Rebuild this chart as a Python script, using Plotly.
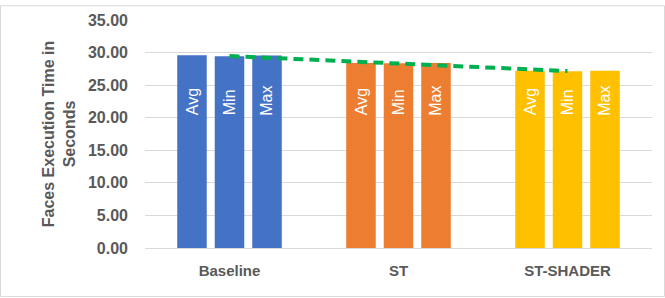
import numpy as np
import plotly.graph_objects as go

categories = ["Baseline", "ST", "ST-SHADER"]
series_names = ["Avg", "Min", "Max"]
avg_values = [29.60, 28.40, 27.20]
min_values = [29.45, 28.35, 27.15]
max_values = [29.55, 28.40, 27.20]
category_colors = ["#4472C4", "#ED7D31", "#FFC000"]
y_ticks = [0, 5, 10, 15, 20, 25, 30, 35]
label_level = 20.0  # data value at which the in-bar labels start

series_values = [avg_values, min_values, max_values]

W, H = 665, 298
L, R, T, B = 145, 13, 15, 50

fig = go.Figure()
for name, vals in zip(series_names, series_values):
    fig.add_trace(go.Bar(
        x=categories, y=vals, name=name,
        marker=dict(color=category_colors, line=dict(width=0)),
        hoverinfo="x+y+name",
    ))

# Linear trendline on the Min series
xi = np.arange(1, len(categories) + 1)
slope, intercept = np.polyfit(xi, min_values, 1)
trend = slope * xi + intercept
fig.add_trace(go.Scatter(
    x=categories, y=trend, mode="lines",
    line=dict(color="#00B050", width=4, dash="10px,6px"),
    showlegend=False, hoverinfo="skip",
))

# In-bar rotated series labels
shifts = [-37.5, 0, 37.5]
for cat in categories:
    for name, dx in zip(series_names, shifts):
        fig.add_annotation(
            x=cat, y=label_level, xref="x", yref="y", xshift=dx,
            text=name, showarrow=False, textangle=-90,
            xanchor="center", yanchor="bottom",
            font=dict(family="Liberation Sans", size=16, color="white"),
        )

pw = W - L - R
ph = H - T - B
fig.add_shape(
    type="rect", xref="paper", yref="paper",
    x0=-(L - 0.5) / pw, x1=1 + (R - 0.5) / pw,
    y0=-(B - 0.5) / ph, y1=1 + (T - 0.5) / ph,
    line=dict(color="#D9D9D9", width=1), fillcolor="rgba(0,0,0,0)", layer="below",
)

fig.update_layout(
    width=W, height=H,
    margin=dict(l=L, r=R, t=T, b=B, pad=0),
    barmode="group", bargap=0.334, bargroupgap=0.213,
    plot_bgcolor="white", paper_bgcolor="white",
    showlegend=False,
    font=dict(family="Liberation Sans", color="#595959"),
    xaxis=dict(
        showgrid=False, showline=False, zeroline=False,
        tickfont=dict(size=15, color="#595959", weight="bold"),
        ticklabelstandoff=12,
    ),
    yaxis=dict(
        range=[0, 35], tickvals=y_ticks, tickformat=".2f",
        showgrid=True, gridcolor="#D9D9D9", gridwidth=1,
        zeroline=True, zerolinecolor="#D9D9D9", zerolinewidth=1,
        showline=False,
        tickfont=dict(size=16, color="#595959", weight="bold"),
        ticklabelstandoff=16,
        title=dict(
            text="Faces Execution Time in<br>Seconds",
            font=dict(size=16, color="#595959", weight="bold"),
            standoff=8,
        ),
    ),
)

fig.write_html(
    "out.html",
    config={"displayModeBar": False},
    post_script="document.body.style.margin='0';document.body.style.overflow='hidden';",
)
